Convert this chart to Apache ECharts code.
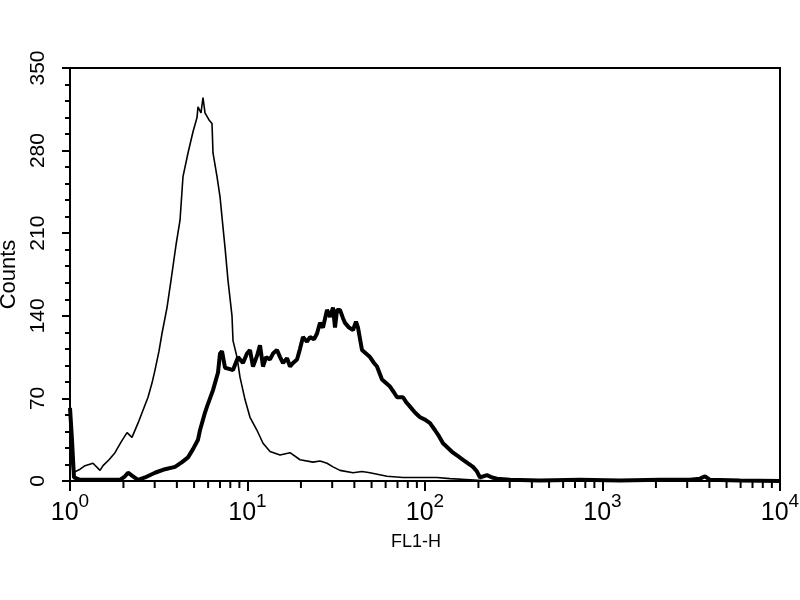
<!DOCTYPE html>
<html><head><meta charset="utf-8">
<script src="https://cdn.jsdelivr.net/npm/echarts@6/dist/echarts.min.js"></script>
<style>html,body{margin:0;padding:0;background:#fff}#c{width:800px;height:600px}</style>
</head><body><div id="c"></div>
<script>
// Control (thin) histogram: FL1-H values and counts
var thinX = [1.00,1.04,1.067,1.14,1.215,1.348,1.476,1.535,1.659,1.793,1.938,2.095,2.235,2.416,2.578,2.751,2.897,3.012,3.172,3.298,3.520,3.707,3.956,4.167,4.331,4.622,4.932,5.194,5.262,5.470,5.614,5.762,6.069,6.310,6.392,6.733,7.000,7.278,7.469,7.765,8.178,8.285,8.727,9.073,9.681,10.33,11.31,12.23,13.39,15.25,17.36,19.76,23.39,25.62,28.05,30.32,33.20,39.31,44.16,48.98,61.07,75.17,93.72,116.8,138.3,179.3,232.4,10000];
var thinY = [30,7,7,10,13,15,9,13,18,24,33,41,37,49,60,71,83,94,110,125,147,170,200,221,258,278,296,308,317,312,325,312,306,303,278,258,241,215,198,170,140,119,105,88,69,54,43,32,25,22,24,18,16,17,15,12,9,7,8,7,4,3,3,3,2,1,0,0];
// Stained (thick) histogram
var thickX = [1.00,1.026,1.053,1.14,1.476,1.913,2.041,2.122,2.264,2.416,2.646,3.012,3.430,3.905,4.276,4.622,4.932,5.262,5.399,5.762,5.913,6.392,6.822,7.000,7.184,7.469,7.867,8.285,8.842,9.433,9.936,10.33,10.74,11.31,11.76,12.23,12.72,13.39,13.92,14.66,15.25,15.85,16.70,17.36,18.05,19.01,19.76,20.54,21.64,22.50,23.70,24.64,25.62,26.63,28.05,29.16,30.32,31.12,31.94,33.20,34.51,35.42,37.31,39.31,40.86,41.93,44.16,46.51,48.98,51.60,53.65,57.24,60.29,63.51,66.91,69.56,75.17,78.16,82.34,87.83,93.72,100.0,106.7,113.9,119.9,126.3,134.8,143.8,153.5,163.8,174.7,186.4,196.3,204.2,223.6,238.6,254.5,301.2,444.6,746.9,1255,2108,3112,3542,3780,4033,5952,10000];
var thickY = [62,35,3,1,1,1,4,7,4,1,3,7,10,12,16,20,27,35,43,58,63,77,92,108,110,96,95,94,105,100,108,111,97,106,115,97,105,103,108,111,105,100,104,97,100,103,112,122,118,122,120,125,134,130,145,139,147,130,145,145,138,134,130,128,135,130,111,108,105,100,97,86,83,80,75,71,71,67,63,58,54,52,49,43,38,32,28,24,21,18,15,12,8,3,5,3,2,1,0.5,1,0.5,1,1,2,4,1,0.5,0];
// Axis tick labels
var yTicks = [0,70,140,210,280,350];
var xDecadeExps = ['0','1','2','3','4'];
var xMinorTicks = [2,3,4,5,6,7,8,9,20,30,40,50,60,70,80,90,200,300,400,500,600,700,800,900,2000,3000,4000,5000,6000,7000,8000,9000];

function pairs(xs, ys){ return xs.map(function(x,i){ return [x, ys[i]]; }); }

var chart = echarts.init(document.getElementById('c'), null, {renderer:'canvas'});
chart.setOption({
  animation:false,
  backgroundColor:'#fff',
  grid:{left:70,right:20,top:68,bottom:119,outerBoundsMode:'none',containLabel:false,show:true,borderColor:'#000',borderWidth:2,backgroundColor:'transparent'},
  xAxis:{
    type:'log', logBase:10, min:1, max:10000,
    name:'FL1-H', nameLocation:'middle', nameGap:52,
    nameTextStyle:{fontFamily:'Liberation Sans', fontSize:18, color:'#000', padding:[0,18,0,0]},
    axisLine:{onZero:false, lineStyle:{color:'#000',width:2}},
    axisTick:{show:true, length:10, lineStyle:{color:'#000',width:2}},
    minorTick:{show:false},
    splitLine:{show:false},
    axisLabel:{margin:11, color:'#000',
      formatter:function(v){ var e = Math.round(Math.log10(v)); return '{b|10}{s|' + xDecadeExps[e] + '}'; },
      rich:{
        b:{fontFamily:'Liberation Sans Narrow, Liberation Sans', fontSize:25, color:'#000', lineHeight:34, verticalAlign:'bottom'},
        s:{fontFamily:'Liberation Sans Narrow, Liberation Sans', fontSize:19, color:'#000', lineHeight:34, verticalAlign:'top'}
      }
    }
  },
  yAxis:{
    type:'value', min:0, max:350, interval:70,
    name:'Counts', nameLocation:'middle', nameGap:48, nameRotate:90,
    nameTextStyle:{fontFamily:'Liberation Sans', fontSize:22, color:'#000'},
    axisLine:{show:true, lineStyle:{color:'#000',width:2}},
    axisTick:{show:true, length:8, lineStyle:{color:'#000',width:2}},
    minorTick:{show:true, splitNumber:5, length:5, lineStyle:{color:'#000',width:2}},
    splitLine:{show:false},
    axisLabel:{rotate:90, margin:21, color:'#000', fontFamily:'Liberation Sans', fontSize:21,
      formatter:function(v){ return yTicks.indexOf(v) >= 0 ? String(v) : ''; }}
  },
  series:[
    {type:'line', data:pairs(thinX, thinY), showSymbol:false, symbol:'none', lineStyle:{color:'#000', width:1.6}, z:3},
    {type:'line', data:pairs(thickX, thickY), showSymbol:false, symbol:'none', lineStyle:{color:'#000', width:4}, z:4},
    {type:'custom', clip:false, silent:true, z:5,
      data:xMinorTicks.map(function(v){ return [v, 0]; }),
      renderItem:function(params, api){
        var p = api.coord([api.value(0), 0]);
        return {type:'line', shape:{x1:p[0], y1:p[1], x2:p[0], y2:p[1]+7}, style:{stroke:'#000', lineWidth:2}};
      }}
  ]
});
</script></body></html>
